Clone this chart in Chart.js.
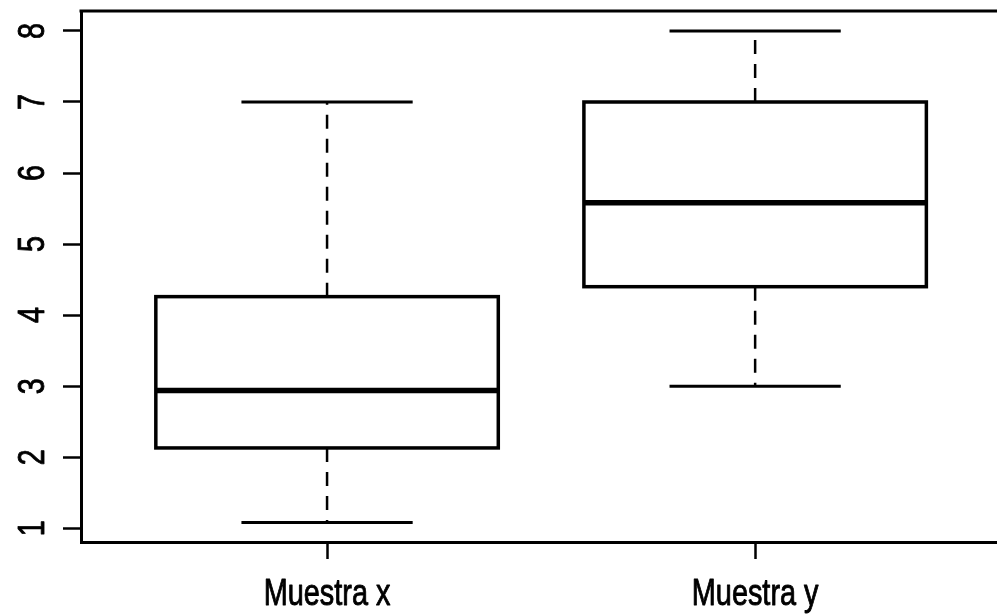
<!DOCTYPE html>
<html>
<head>
<meta charset="utf-8">
<title>Muestra x / Muestra y</title>
<script src="https://cdn.jsdelivr.net/npm/chart.js@4.4.1/dist/chart.umd.min.js"></script>
<style>
  html, body { margin: 0; padding: 0; background: #fff; overflow: hidden; }
  #c { display: block; }
</style>
</head>
<body>
<canvas id="c" width="997" height="615"></canvas>
<script>
// Five-number summaries of the two samples
const categories  = ['Muestra x', 'Muestra y'];
const whiskerLow  = [1.08, 3.0];
const quartile1   = [2.13, 4.40];
const medians     = [2.94, 5.58];
const quartile3   = [4.26, 7.0];
const whiskerHigh = [7.0, 8.0];
const yTickValues = [1, 2, 3, 4, 5, 6, 7, 8];

const FONT_FAMILY = "'Liberation Sans', Arial, sans-serif";
const BOX_HALF = 0.4;    // half box width, in x-axis units
const CAP_HALF = 0.2;    // half whisker-cap width

// Narrow (horizontally condensed), slightly heavy text helper
function narrowText(ctx, text, x, y, angle, size, squeeze) {
  ctx.save();
  ctx.translate(x, y);
  ctx.rotate(angle);
  ctx.scale(squeeze, 1);
  ctx.font = size + 'px ' + FONT_FAMILY;
  ctx.fillStyle = '#000';
  ctx.strokeStyle = '#000';
  ctx.lineWidth = 0.9;
  ctx.lineJoin = 'round';
  ctx.textAlign = 'center';
  ctx.textBaseline = 'alphabetic';
  ctx.fillText(text, 0, 0);
  ctx.strokeText(text, 0, 0);
  ctx.restore();
}

// Draws the boxes, medians, dashed whiskers, caps and axis labels through the chart scales
const boxPlotDraw = {
  id: 'boxPlotDraw',
  afterDraw(chart) {
    const { ctx, chartArea, scales: { x, y } } = chart;
    ctx.save();
    ctx.strokeStyle = '#000';
    ctx.lineCap = 'butt';

    // frame line along the top of the plotting region
    ctx.lineWidth = 3;
    ctx.beginPath();
    ctx.moveTo(chartArea.left - 1.5, chartArea.top);
    ctx.lineTo(chartArea.right, chartArea.top);
    ctx.stroke();

    categories.forEach((name, i) => {
      const pos = i + 1;
      const cx = x.getPixelForValue(pos);
      const bl = x.getPixelForValue(pos - BOX_HALF);
      const br = x.getPixelForValue(pos + BOX_HALF);
      const cl = x.getPixelForValue(pos - CAP_HALF);
      const cr = x.getPixelForValue(pos + CAP_HALF);
      const yMin = y.getPixelForValue(whiskerLow[i]);
      const yQ1 = y.getPixelForValue(quartile1[i]);
      const yMed = y.getPixelForValue(medians[i]);
      const yQ3 = y.getPixelForValue(quartile3[i]);
      const yMax = y.getPixelForValue(whiskerHigh[i]);

      // dashed whiskers
      ctx.lineWidth = 2.5;
      ctx.setLineDash([14, 10]);
      ctx.beginPath();
      ctx.moveTo(cx, yQ3); ctx.lineTo(cx, yMax);
      ctx.moveTo(cx, yQ1); ctx.lineTo(cx, yMin);
      ctx.stroke();
      ctx.setLineDash([]);

      // caps
      ctx.lineWidth = 3;
      ctx.beginPath();
      ctx.moveTo(cl, yMax); ctx.lineTo(cr, yMax);
      ctx.moveTo(cl, yMin); ctx.lineTo(cr, yMin);
      ctx.stroke();

      // box
      ctx.lineWidth = 3.5;
      ctx.strokeRect(bl, yQ3, br - bl, yQ1 - yQ3);

      // median
      ctx.lineWidth = 5.5;
      ctx.beginPath();
      ctx.moveTo(bl, yMed); ctx.lineTo(br, yMed);
      ctx.stroke();

      // category label under its tick
      narrowText(ctx, name, cx, chartArea.bottom + 63, 0, 37, 0.78);
    });

    // value labels, rotated to read upwards
    yTickValues.forEach(v => {
      narrowText(ctx, String(v), 44, y.getPixelForValue(v), -Math.PI / 2, 36, 0.8);
    });
    ctx.restore();
  }
};

new Chart(document.getElementById('c'), {
  type: 'scatter',
  data: { datasets: [{ data: [], showLine: false, pointRadius: 0 }] },
  options: {
    responsive: false,
    devicePixelRatio: 1,
    animation: false,
    events: [],
    layout: { padding: { top: 11, left: 0, right: 0, bottom: 0 } },
    plugins: { legend: { display: false }, tooltip: { enabled: false } },
    scales: {
      x: {
        type: 'linear',
        min: 0.4252,
        max: 2.565,
        afterBuildTicks: s => { s.ticks = categories.map((c, i) => ({ value: i + 1 })); },
        afterFit: s => { s.height = 73; s.paddingLeft = 0; s.paddingRight = 0; },
        grid: { drawOnChartArea: false, drawTicks: true, tickLength: 17, tickWidth: 2.5, color: '#000' },
        border: { display: true, color: '#000', width: 3 },
        ticks: { display: false, autoSkip: false }
      },
      y: {
        type: 'linear',
        min: 0.806,
        max: 8.281,
        afterBuildTicks: s => { s.ticks = yTickValues.map(v => ({ value: v })); },
        afterFit: s => { s.width = 81; s.paddingTop = 0; s.paddingBottom = 0; },
        grid: { drawOnChartArea: false, drawTicks: true, tickLength: 18, tickWidth: 2.5, color: '#000' },
        border: { display: true, color: '#000', width: 3 },
        ticks: { display: false, autoSkip: false }
      }
    }
  },
  plugins: [boxPlotDraw]
});
</script>
</body>
</html>
